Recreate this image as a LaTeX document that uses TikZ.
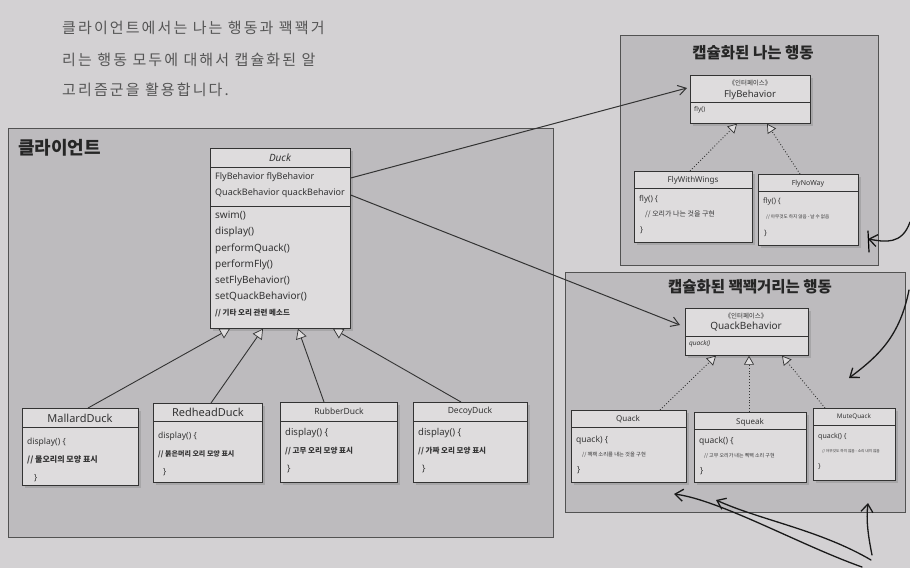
\documentclass[tikz,border=0pt]{standalone}
\usepackage{fontspec}
\setmainfont{Noto Sans}
\newfontfamily\kr{Noto Sans CJK KR}
\newfontfamily\krhand[LetterSpace=14]{Noto Sans CJK KR}
\usetikzlibrary{arrows.meta,calc,shadows}
\definecolor{pagebg}{HTML}{D3D1D3}
\definecolor{panelbg}{HTML}{BDBBBE}
\definecolor{boxbg}{HTML}{DEDCDD}
\definecolor{ink}{HTML}{333333}
\definecolor{pen}{HTML}{555555}
\tikzset{
  panel/.style={draw=ink!85, line width=1.1pt, fill=panelbg, anchor=north west, inner sep=0pt},
  umlbox/.style={draw=ink, line width=0.7pt, fill=boxbg, anchor=north west, inner sep=0pt,
    drop shadow={shadow xshift=3pt, shadow yshift=-3pt, opacity=0.35}},
  sep/.style={draw=ink, line width=0.6pt},
  txt/.style={anchor=west, inner sep=0pt, text=ink},
  ctxt/.style={anchor=center, inner sep=0pt, text=ink},
  inherit/.style={draw=ink, line width=0.9pt, -{Triangle[open, fill=boxbg, length=10pt, width=11pt, line width=0.7pt]}},
  realize/.style={draw=ink, line width=0.9pt, dotted, -{Triangle[open, fill=boxbg, length=9pt, width=10pt, line width=0.7pt]}},
  assoc/.style={draw=ink, line width=1pt, -{Straight Barb[length=8pt, width=10pt, line width=1pt]}},
  hand/.style={draw=black!90, line width=1.3pt, line cap=round, line join=round, -{Straight Barb[length=8pt, width=12pt, line width=1.3pt]}},
  paneltitle/.style={anchor=center, inner sep=0pt, text=black!85, font=\kr\bfseries\fontsize{15.5}{17}\selectfont}
}
\begin{document}
\begin{tikzpicture}[x=1pt, y=-1pt]
\useasboundingbox (0,0) rectangle (910,568);
\fill[pagebg] (0,0) rectangle (910,568);

% handwritten note
\node[anchor=west, inner sep=0pt, text=pen, font=\krhand\fontsize{15}{17}\selectfont] (note1) at (62,28) {클라이언트에서는 나는 행동과 꽥꽥거};
\node[anchor=west, inner sep=0pt, text=pen, font=\krhand\fontsize{15}{17}\selectfont] (note2) at (62,60) {리는 행동 모두에 대해서 캡슐화된 알};
\node[anchor=west, inner sep=0pt, text=pen, font=\krhand\fontsize{15}{17}\selectfont] (note3) at (62,90) {고리즘군을 활용합니다.};

% panels
\node[panel, minimum width=545pt, minimum height=409pt] (clientpanel) at (8,128) {};
\node[anchor=west, inner sep=0pt, text=black!85, font=\kr\bfseries\fontsize{18}{20}\selectfont] (clienttitle) at (18,148) {클라이언트};
\node[panel, minimum width=258pt, minimum height=230pt] (flypanel) at (620,35) {};
\node[paneltitle] (flytitle) at (753,53) {캡슐화된 나는 행동};
\node[panel, minimum width=340pt, minimum height=240pt] (quackpanel) at (565,272) {};
\node[paneltitle] (quacktitle) at (750,287) {캡슐화된 꽥꽥거리는 행동};

% Duck
\node[umlbox, minimum width=140pt, minimum height=180pt] (duck) at (210,148) {};
\draw[sep] ($(duck.north west)+(0,19)$) -- ($(duck.north east)+(0,19)$);
\draw[sep] ($(duck.north west)+(0,58)$) -- ($(duck.north east)+(0,58)$);
\node[ctxt, font=\itshape\fontsize{10}{11}\selectfont] (duckname) at (280,158) {Duck};
\node[txt, font=\fontsize{9}{10}\selectfont] (da1) at (215,177) {FlyBehavior flyBehavior};
\node[txt, font=\fontsize{9}{10}\selectfont] (da2) at (215,193) {QuackBehavior quackBehavior};
\foreach \t/\y [count=\i] in {swim()/216, display()/232, performQuack()/249, performFly()/265, setFlyBehavior()/281, setQuackBehavior()/297}
  \node[txt, font=\fontsize{10}{11}\selectfont] (dm\i) at (215,\y) {\t};
\node[txt, font=\kr\bfseries\fontsize{7.5}{9}\selectfont] (dm7) at (215,313) {// 기타 오리 관련 메소드};

% MallardDuck
\node[umlbox, minimum width=116pt, minimum height=77pt] (mallard) at (22,408) {};
\draw[sep] ($(mallard.north west)+(0,19)$) -- ($(mallard.north east)+(0,19)$);
\node[ctxt, font=\fontsize{11}{12}\selectfont] (mallardname) at (80,418) {MallardDuck};
\node[txt, font=\fontsize{8.5}{10}\selectfont] (ma1) at (27,442) {display() \{};
\node[txt, font=\kr\bfseries\fontsize{8}{10}\selectfont] (ma2) at (27,460) {// 물오리의 모양 표시};
\node[txt, font=\fontsize{8.5}{10}\selectfont] (ma3) at (34,478) {\}};

% RedheadDuck
\node[umlbox, minimum width=109pt, minimum height=79pt] (redhead) at (153,403) {};
\draw[sep] ($(redhead.north west)+(0,18)$) -- ($(redhead.north east)+(0,18)$);
\node[ctxt, font=\fontsize{11}{12}\selectfont] (redheadname) at (208,412) {RedheadDuck};
\node[txt, font=\fontsize{8.5}{10}\selectfont] (re1) at (158,436) {display() \{};
\node[txt, font=\kr\bfseries\fontsize{7}{9}\selectfont] (re2) at (158,454) {// 붉은머리 오리 모양 표시};
\node[txt, font=\fontsize{8.5}{10}\selectfont] (re3) at (163,472) {\}};

% RubberDuck
\node[umlbox, minimum width=117pt, minimum height=80pt] (rubber) at (280,402) {};
\draw[sep] ($(rubber.north west)+(0,19)$) -- ($(rubber.north east)+(0,19)$);
\node[ctxt, font=\bfseries\fontsize{8.5}{10}\selectfont] (rubbername) at (339,411) {RubberDuck};
\node[txt, font=\fontsize{9.5}{11}\selectfont] (ru1) at (285,433) {display() \{};
\node[txt, font=\kr\bfseries\fontsize{7.5}{9}\selectfont] (ru2) at (285,451) {// 고무 오리 모양 표시};
\node[txt, font=\fontsize{9}{10}\selectfont] (ru3) at (287,469) {\}};

% DecoyDuck
\node[umlbox, minimum width=114pt, minimum height=80pt] (decoy) at (413,402) {};
\draw[sep] ($(decoy.north west)+(0,19)$) -- ($(decoy.north east)+(0,19)$);
\node[ctxt, font=\bfseries\fontsize{8.5}{10}\selectfont] (decoyname) at (470,411) {DecoyDuck};
\node[txt, font=\fontsize{9.5}{11}\selectfont] (de1) at (418,433) {display() \{};
\node[txt, font=\kr\bfseries\fontsize{7.5}{9}\selectfont] (de2) at (418,451) {// 가짜 오리 모양 표시};
\node[txt, font=\fontsize{9}{10}\selectfont] (de3) at (422,469) {\}};

% inheritance to Duck
\draw[inherit] ($(mallard.north west)+(66,0)$) -- ($(duck.south west)+(20,0)$);
\draw[inherit] ($(redhead.north west)+(58,0)$) -- ($(duck.south west)+(53,0)$);
\draw[inherit] ($(rubber.north west)+(44,0)$) -- ($(duck.south west)+(88,0)$);
\draw[inherit] ($(decoy.north west)+(48,0)$) -- ($(duck.south west)+(123,0)$);

% FlyBehavior
\node[umlbox, minimum width=120pt, minimum height=48pt] (flyb) at (690,75) {};
\draw[sep] ($(flyb.north west)+(0,27)$) -- ($(flyb.north east)+(0,27)$);
\node[ctxt, font=\kr\fontsize{6.5}{8}\selectfont] (flybst) at (750,83) {《인터페이스》};
\node[ctxt, font=\fontsize{9.5}{11}\selectfont] (flybname) at (750,95) {FlyBehavior};
\node[txt, font=\fontsize{6.5}{8}\selectfont] (flybm) at (694,110) {fly()};

% FlyWithWings
\node[umlbox, minimum width=118pt, minimum height=71pt] (fww) at (634,171) {};
\draw[sep] ($(fww.north west)+(0,17)$) -- ($(fww.north east)+(0,17)$);
\node[ctxt, font=\bfseries\fontsize{8}{9}\selectfont] (fwwname) at (693,180) {FlyWithWings};
\node[txt, font=\fontsize{8}{9}\selectfont] (fw1) at (639,199) {fly() \{};
\node[txt, font=\kr\fontsize{7}{8}\selectfont] (fw2) at (645,214) {// 오리가 나는 것을 구현};
\node[txt, font=\fontsize{8}{9}\selectfont] (fw3) at (640,230) {\}};

% FlyNoWay
\node[umlbox, minimum width=100pt, minimum height=71pt] (fnw) at (758,174) {};
\draw[sep] ($(fnw.north west)+(0,17)$) -- ($(fnw.north east)+(0,17)$);
\node[ctxt, font=\bfseries\fontsize{7}{8}\selectfont] (fnwname) at (808,184) {FlyNoWay};
\node[txt, font=\fontsize{7.5}{9}\selectfont] (fn1) at (763,202) {fly() \{};
\node[txt, font=\kr\fontsize{4.6}{6}\selectfont] (fn2) at (766,217) {// 아무것도 하지 않음 - 날 수 없음};
\node[txt, font=\fontsize{7.5}{9}\selectfont] (fn3) at (764,233) {\}};

\draw[realize] ($(fww.north west)+(56,0)$) -- ($(flyb.south west)+(47,0)$);
\draw[realize] ($(fnw.north west)+(42,0)$) -- ($(flyb.south west)+(77,0)$);

% QuackBehavior
\node[umlbox, minimum width=123pt, minimum height=47pt] (qb) at (685,308) {};
\draw[sep] ($(qb.north west)+(0,28)$) -- ($(qb.north east)+(0,28)$);
\node[ctxt, font=\kr\fontsize{6.5}{8}\selectfont] (qbst) at (746,316) {《인터페이스》};
\node[ctxt, font=\fontsize{10}{11}\selectfont] (qbname) at (746,327) {QuackBehavior};
\node[txt, font=\itshape\fontsize{6.5}{8}\selectfont] (qbm) at (689,344) {quack()};

% Quack
\node[umlbox, minimum width=115pt, minimum height=72pt] (quack) at (571,410) {};
\draw[sep] ($(quack.north west)+(0,17)$) -- ($(quack.north east)+(0,17)$);
\node[ctxt, font=\bfseries\fontsize{8}{9}\selectfont] (quackname) at (628,419) {Quack};
\node[txt, font=\fontsize{8.5}{10}\selectfont] (qu1) at (576,440) {quack) \{};
\node[txt, font=\kr\fontsize{5.3}{6}\selectfont] (qu2) at (582,455) {// 꽥꽥 소리를 내는 것을 구현};
\node[txt, font=\fontsize{8.5}{10}\selectfont] (qu3) at (577,470) {\}};

% Squeak
\node[umlbox, minimum width=112pt, minimum height=70pt] (squeak) at (694,412) {};
\draw[sep] ($(squeak.north west)+(0,17)$) -- ($(squeak.north east)+(0,17)$);
\node[ctxt, font=\bfseries\fontsize{8}{9}\selectfont] (squeakname) at (750,422) {Squeak};
\node[txt, font=\fontsize{8.5}{10}\selectfont] (sq1) at (699,441) {quack() \{};
\node[txt, font=\kr\fontsize{5}{6}\selectfont] (sq2) at (704,456) {// 고무 오리가 내는 삑삑 소리 구현};
\node[txt, font=\fontsize{8.5}{10}\selectfont] (sq3) at (700,471) {\}};

% MuteQuack
\node[umlbox, minimum width=82pt, minimum height=72pt] (mute) at (813,408) {};
\draw[sep] ($(mute.north west)+(0,17)$) -- ($(mute.north east)+(0,17)$);
\node[ctxt, font=\bfseries\fontsize{6.3}{7}\selectfont] (mutename) at (854,417) {MuteQuack};
\node[txt, font=\fontsize{7}{8}\selectfont] (mu1) at (818,437) {quack() \{};
\node[txt, font=\kr\fontsize{3.7}{5}\selectfont] (mu2) at (822,451) {// 아무것도 하지 않음 - 소리 내지 않음};
\node[txt, font=\fontsize{7}{8}\selectfont] (mu3) at (818,467) {\}};

\draw[realize] ($(quack.north west)+(89,0)$) -- ($(qb.south west)+(31,0)$);
\draw[realize] ($(squeak.north west)+(55,0)$) -- ($(qb.south west)+(64,0)$);
\draw[realize] ($(mute.north west)+(12,0)$) -- ($(qb.south west)+(97,0)$);

% associations
\draw[assoc] ($(duck.north east)+(0,30)$) -- ($(flyb.north west)+(-3,13)$);
\draw[assoc] ($(duck.north east)+(0,47)$) -- ($(qb.north west)+(-5,17)$);

% handwritten arrows
\coordinate (h1s) at (910,222);
\coordinate (h1e) at (868,239);
\draw[hand] (h1s) .. controls (902,245) and (885,242) .. (h1e);
\draw[line width=1.2pt, line cap=round] (868,231) -- (869,252);
\coordinate (h2s) at (909,290);
\coordinate (h2e) at (849,378);
\draw[hand] (h2s) .. controls (900,335) and (880,355) .. (h2e);
\coordinate (h3s) at (862,567);
\coordinate (h3e) at (674,494);
\draw[hand] (h3s) .. controls (800,545) and (720,500) .. (h3e);
\coordinate (h4s) at (871,560);
\coordinate (h4e) at (716,500);
\draw[hand] (h4s) .. controls (820,530) and (760,520) .. (h4e);
\coordinate (h5s) at (872,555);
\coordinate (h5e) at (868,503);
\draw[hand] (h5s) .. controls (868,535) and (866,520) .. (h5e);
\end{tikzpicture}
\end{document}
